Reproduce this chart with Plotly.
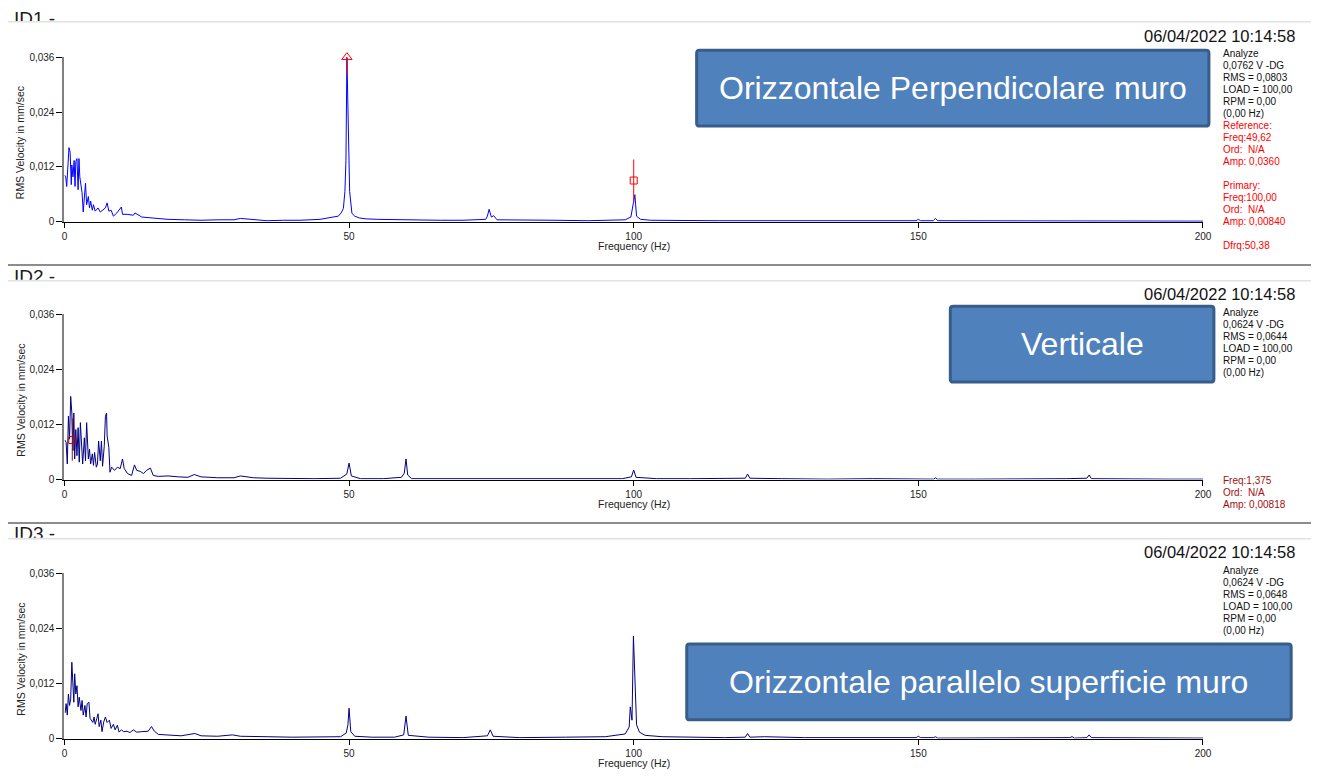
import plotly.graph_objects as go

W, H = 1320, 780

# ---------------- data ----------------
id1_freq = [
    0.0, 0.23, 0.4, 0.6, 0.8, 1.0, 1.2, 1.3, 1.5, 1.7,
    1.86, 2.0, 2.2, 2.4, 2.55, 2.7, 2.9, 3.1, 3.3, 3.5,
    3.7, 3.9, 4.2, 4.4, 4.6, 4.9, 5.1, 5.4, 5.9, 6.3,
    6.8, 7.2, 7.5, 7.8, 8.2, 8.6, 9.2, 10.0, 10.2, 11.0,
    12.1, 12.4, 13.6, 14.7, 16.5, 18.2, 21.1, 24.0, 27.0, 29.8,
    30.9, 33.2, 35.6, 38.5, 41.4, 44.9, 47.2, 48.1, 48.6, 49.0,
    49.27, 49.45, 49.62, 49.85, 50.1, 50.5, 51.0, 51.8, 53.0, 55.0,
    58.0, 62.0, 66.0, 70.0, 74.0, 74.3, 74.6, 75.0, 75.4, 76.0,
    80.0, 86.0, 92.0, 98.5, 99.5, 99.8, 100.0, 100.2, 100.5, 101.2,
    103.0, 108.0, 115.0, 122.0, 130.0, 138.0, 145.0, 149.6, 150.0, 150.4,
    152.6, 153.0, 153.4, 160.0, 170.0, 180.0, 190.0, 200.0,
]
id1_amp = [
    0.0102, 0.0098, 0.0077, 0.0127, 0.0162, 0.0152, 0.0081, 0.0124, 0.0098, 0.0134,
    0.0077, 0.0131, 0.0138, 0.0070, 0.0138, 0.0098, 0.0084, 0.0063, 0.0021, 0.0052,
    0.0084, 0.0037, 0.0055, 0.0030, 0.0045, 0.0025, 0.0037, 0.0023, 0.0030, 0.0021,
    0.0025, 0.0030, 0.0041, 0.0023, 0.0025, 0.0012, 0.0019, 0.0032, 0.0016, 0.0016,
    0.0014, 0.0019, 0.0010, 0.0009, 0.0007, 0.0005, 0.0004, 0.0003, 0.0004, 0.0004,
    0.0007, 0.0004, 0.0002, 0.0003, 0.0003, 0.0005, 0.0009, 0.0012, 0.0019, 0.0029,
    0.0066, 0.0134, 0.0360, 0.0191, 0.0066, 0.0018, 0.0012, 0.0008, 0.0006, 0.0005,
    0.0004, 0.0003, 0.0003, 0.0003, 0.0005, 0.0012, 0.0027, 0.0010, 0.0013, 0.0004,
    0.0003, 0.0003, 0.0002, 0.0004, 0.0010, 0.0029, 0.0040, 0.0059, 0.0012, 0.0005,
    0.0003, 0.0002, 0.0002, 0.0002, 0.0002, 0.0002, 0.0002, 0.0002, 0.0005, 0.0002,
    0.0002, 0.0007, 0.0002, 0.0002, 0.0001, 0.0001, 0.0001, 0.0001,
]

id2_freq = [
    0.09, 0.3, 0.5, 0.7, 0.9, 1.1, 1.3, 1.5, 1.65, 1.8,
    2.0, 2.2, 2.4, 2.6, 2.8, 3.0, 3.2, 3.5, 3.7, 3.9,
    4.2, 4.4, 4.6, 4.9, 5.1, 5.3, 5.6, 5.8, 6.0, 6.3,
    6.5, 6.7, 7.0, 7.2, 7.4, 7.5, 7.8, 8.0, 8.3, 8.8,
    9.3, 9.8, 10.2, 10.5, 11.1, 11.8, 12.3, 12.7, 13.3, 13.9,
    14.4, 15.1, 15.6, 16.5, 18.2, 20.0, 21.7, 22.8, 24.0, 26.9,
    29.8, 30.9, 33.2, 35.6, 39.0, 44.0, 48.5, 49.6, 50.0, 50.4,
    52.0, 56.0, 59.2, 59.7, 60.0, 60.3, 61.0, 66.0, 72.0, 78.0,
    85.0, 92.0, 98.0, 99.6, 100.0, 100.4, 104.0, 110.0, 116.0, 119.6,
    120.0, 120.4, 126.0, 134.0, 142.0, 150.0, 152.7, 153.0, 153.3, 160.0,
    168.0, 176.0, 179.6, 180.0, 180.4, 186.0, 194.0, 200.0,
]
id2_amp = [
    0.0086, 0.0081, 0.0034, 0.0138, 0.0088, 0.0181, 0.0145, 0.0063, 0.0145, 0.0045,
    0.0109, 0.0052, 0.0113, 0.0038, 0.0124, 0.0074, 0.0034, 0.0091, 0.0041, 0.0124,
    0.0045, 0.0066, 0.0034, 0.0056, 0.0031, 0.0059, 0.0027, 0.0034, 0.0084, 0.0041,
    0.0084, 0.0029, 0.0074, 0.0138, 0.0145, 0.0095, 0.0070, 0.0016, 0.0027, 0.0020,
    0.0027, 0.0024, 0.0045, 0.0024, 0.0013, 0.0009, 0.0032, 0.0020, 0.0018, 0.0013,
    0.0020, 0.0025, 0.0009, 0.0007, 0.0008, 0.0006, 0.0005, 0.0011, 0.0006, 0.0004,
    0.0004, 0.0008, 0.0004, 0.0003, 0.0002, 0.0002, 0.0003, 0.0012, 0.0036, 0.0008,
    0.0002, 0.0002, 0.0005, 0.0014, 0.0045, 0.0010, 0.0002, 0.0002, 0.0002, 0.0002,
    0.0002, 0.0002, 0.0002, 0.0006, 0.0021, 0.0005, 0.0002, 0.0002, 0.0002, 0.0003,
    0.0012, 0.0003, 0.0002, 0.0001, 0.0002, 0.0002, 0.0001, 0.0004, 0.0001, 0.0001,
    0.0001, 0.0002, 0.0003, 0.0010, 0.0002, 0.0001, 0.0001, 0.0001,
]

id3_freq = [
    0.12, 0.3, 0.5, 0.7, 0.9, 1.1, 1.3, 1.5, 1.65, 1.8,
    2.0, 2.2, 2.4, 2.6, 2.9, 3.1, 3.3, 3.6, 3.8, 4.0,
    4.3, 4.5, 4.7, 5.0, 5.2, 5.4, 5.7, 5.9, 6.1, 6.4,
    6.6, 6.9, 7.2, 7.5, 7.9, 8.2, 8.6, 8.9, 9.3, 9.6,
    10.0, 10.4, 11.0, 11.5, 12.1, 12.7, 13.6, 14.7, 15.3, 15.8,
    16.5, 18.2, 20.5, 22.9, 24.0, 26.9, 29.5, 30.9, 33.2, 35.6,
    40.0, 45.0, 48.5, 49.5, 49.8, 50.0, 50.3, 51.0, 54.0, 58.0,
    59.6, 60.0, 60.4, 64.0, 70.0, 74.3, 74.8, 75.3, 80.0, 88.0,
    95.0, 98.5, 99.2, 99.4, 99.7, 99.95, 100.15, 100.5, 101.0, 102.0,
    105.0, 110.0, 116.0, 119.6, 120.0, 120.4, 123.0, 130.0, 140.0, 149.6,
    150.0, 150.4, 152.7, 153.0, 153.4, 160.0, 170.0, 176.6, 177.0, 177.4,
    179.6, 180.0, 180.4, 188.0, 194.0, 200.0,
]
id3_amp = [
    0.0056, 0.0076, 0.0051, 0.0097, 0.0072, 0.0086, 0.0166, 0.0108, 0.0079, 0.0141,
    0.0097, 0.0115, 0.0069, 0.0090, 0.0061, 0.0083, 0.0051, 0.0072, 0.0047, 0.0076,
    0.0079, 0.0044, 0.0040, 0.0035, 0.0047, 0.0031, 0.0044, 0.0054, 0.0026, 0.0040,
    0.0015, 0.0036, 0.0047, 0.0035, 0.0040, 0.0022, 0.0031, 0.0019, 0.0029, 0.0014,
    0.0019, 0.0015, 0.0016, 0.0013, 0.0019, 0.0014, 0.0015, 0.0016, 0.0026, 0.0016,
    0.0009, 0.0008, 0.0006, 0.0011, 0.0006, 0.0005, 0.0008, 0.0005, 0.0004, 0.0004,
    0.0003, 0.0003, 0.0004, 0.0012, 0.0030, 0.0066, 0.0015, 0.0005, 0.0003, 0.0003,
    0.0008, 0.0049, 0.0007, 0.0003, 0.0002, 0.0006, 0.0019, 0.0005, 0.0002, 0.0003,
    0.0004, 0.0010, 0.0025, 0.0069, 0.0040, 0.0223, 0.0165, 0.0030, 0.0014, 0.0007,
    0.0004, 0.0003, 0.0002, 0.0003, 0.0011, 0.0003, 0.0004, 0.0002, 0.0002, 0.0002,
    0.0005, 0.0002, 0.0002, 0.0004, 0.0001, 0.0001, 0.0002, 0.0002, 0.0004, 0.0001,
    0.0002, 0.0008, 0.0002, 0.0002, 0.0001, 0.0001,
]

# cursors (freq, marker amp, line low, line high)
ref_cursor = [49.62, 0.0360, 0.0321, 0.0360]
primary_cursor = [100.0, 0.0090, 0.0041, 0.0136]
id2_cursor = [1.375, 0.0086, 0.0041, 0.0133]

x_tickvals = [0, 50, 100, 150, 200]
x_ticktext = ["0", "50", "100", "150", "200"]
y_tickvals = [0, 0.012, 0.024, 0.036]
y_ticktext = ["0", "0,012", "0,024", "0,036"]

id_labels = ["ID1 -", "ID2 -", "ID3 -"]
timestamp = "06/04/2022 10:14:58"
info_lines = [
    ["Analyze", "0,0762 V -DG", "RMS = 0,0803", "LOAD = 100,00", "RPM = 0,00", "(0,00 Hz)"],
    ["Analyze", "0,0624 V -DG", "RMS = 0,0644", "LOAD = 100,00", "RPM = 0,00", "(0,00 Hz)"],
    ["Analyze", "0,0624 V -DG", "RMS = 0,0648", "LOAD = 100,00", "RPM = 0,00", "(0,00 Hz)"],
]
cursor1_lines = ["Reference:", "Freq:49,62", "Ord:\u00a0 N/A", "Amp: 0,0360", "",
                 "Primary:", "Freq:100,00", "Ord:\u00a0 N/A", "Amp: 0,00840", "", "Dfrq:50,38"]
cursor2_lines = ["Freq:1,375", "Ord:\u00a0 N/A", "Amp: 0,00818"]
box_labels = ["Orizzontale Perpendicolare muro", "Verticale", "Orizzontale parallelo superficie muro"]
x_title = "Frequency (Hz)"
y_title = "RMS Velocity in mm/sec"

# ---------------- layout geometry (pixels) ----------------
PX_L, PX_R = 62, 1211
panels = [(52, 219), (313, 481), (576, 744)]
id_clip = [(0, 16, 14.5), (264, 278, 276), (526, 540, 538)]
sep_dark = [263, 525]
sep_light = [16, 279, 541]
boxes = [(700, 45, 1217, 122), (956, 305, 1222, 382), (690, 648, 1300, 725)]
info_top = [48.3, 311.0, 573.3]
line_h = 12.2
date_y = [30.5, 292.7, 555.0]
cursor2_top = 482.3

FONT = "Liberation Sans, Arial, sans-serif"
LINE_COLORS = ["#0000FF", "#000080", "#000080"]


def fx(px):
    return px / W


def fy(py):
    return 1 - py / H


fig = go.Figure()

series = [(id1_freq, id1_amp), (id2_freq, id2_amp), (id3_freq, id3_amp)]
for i, (fr, am) in enumerate(series):
    sfx = "" if i == 0 else str(i + 1)
    fig.add_trace(go.Scatter(x=fr, y=am, mode="lines",
                             line=dict(color=LINE_COLORS[i], width=1),
                             xaxis="x" + sfx, yaxis="y" + sfx,
                             showlegend=False, hoverinfo="skip"))


def add_cursor(cur, color, symbol, size, ax):
    f, m, lo, hi = cur
    fig.add_trace(go.Scatter(x=[f, f], y=[lo, hi], mode="lines",
                             line=dict(color=color, width=1),
                             xaxis="x" + ax, yaxis="y" + ax,
                             showlegend=False, hoverinfo="skip"))
    fig.add_trace(go.Scatter(x=[f], y=[m], mode="markers",
                             marker=dict(symbol=symbol, size=size, color=color,
                                         line=dict(color=color, width=1)),
                             cliponaxis=False,
                             xaxis="x" + ax, yaxis="y" + ax,
                             showlegend=False, hoverinfo="skip"))


add_cursor(ref_cursor, "#FF0000", "triangle-up-open", 9, "")
add_cursor(primary_cursor, "#FF0000", "square-open", 7, "")
add_cursor(id2_cursor, "#A01010", "square-open", 7, "2")

# ID header labels, clipped by small hidden subplots
for i, (top, bot, ty) in enumerate(id_clip):
    n = str(i + 4)
    fig.add_trace(go.Scatter(x=[11], y=[ty], mode="text", text=[id_labels[i]],
                             textposition="middle right",
                             textfont=dict(family=FONT, size=19, color="#1a1a1a"),
                             cliponaxis=True,
                             xaxis="x" + n, yaxis="y" + n,
                             showlegend=False, hoverinfo="skip"))

layout = dict(
    width=W, height=H,
    margin=dict(l=0, r=0, t=0, b=0),
    paper_bgcolor="white", plot_bgcolor="rgba(0,0,0,0)",
    font=dict(family=FONT, size=10, color="#222222"),
    showlegend=False,
)

for i, (top, bot) in enumerate(panels):
    sfx = "" if i == 0 else str(i + 1)
    layout["xaxis" + sfx] = dict(
        domain=[fx(PX_L), fx(PX_R)], range=[0, 200], anchor="y" + sfx,
        tickvals=x_tickvals, ticktext=x_ticktext, ticks="outside", ticklen=5,
        tickcolor="black", tickwidth=1, showline=True, linecolor="black", linewidth=1,
        showgrid=False, zeroline=False, tickfont=dict(size=10, color="#222222"),
        fixedrange=True)
    layout["yaxis" + sfx] = dict(
        domain=[fy(bot), fy(top)], range=[0, 0.036], anchor="x" + sfx,
        tickvals=y_tickvals, ticktext=y_ticktext, ticks="outside", ticklen=6,
        tickcolor="black", tickwidth=1, showline=True, linecolor="#808080", linewidth=2,
        showgrid=False, zeroline=False, tickfont=dict(size=10, color="#222222"),
        fixedrange=True)

for i, (top, bot, ty) in enumerate(id_clip):
    n = str(i + 4)
    layout["xaxis" + n] = dict(domain=[0, 0.1], range=[0, 132], visible=False,
                               anchor="y" + n, fixedrange=True)
    layout["yaxis" + n] = dict(domain=[fy(bot), fy(top)], range=[bot, top], visible=False,
                               anchor="x" + n, fixedrange=True)

shapes = []
for y in sep_dark:
    shapes.append(dict(type="line", xref="paper", yref="paper", x0=fx(5), x1=1,
                       y0=fy(y), y1=fy(y), line=dict(color="#8c8c8c", width=2)))
for y in sep_light:
    shapes.append(dict(type="line", xref="paper", yref="paper", x0=fx(5), x1=1,
                       y0=fy(y), y1=fy(y), line=dict(color="#e2e2e2", width=1.5)))


def rounded_rect(x0, y0, x1, y1, r=3):
    pts = [
        f"M {fx(x0 + r)},{fy(y0)}",
        f"L {fx(x1 - r)},{fy(y0)}",
        f"Q {fx(x1)},{fy(y0)} {fx(x1)},{fy(y0 + r)}",
        f"L {fx(x1)},{fy(y1 - r)}",
        f"Q {fx(x1)},{fy(y1)} {fx(x1 - r)},{fy(y1)}",
        f"L {fx(x0 + r)},{fy(y1)}",
        f"Q {fx(x0)},{fy(y1)} {fx(x0)},{fy(y1 - r)}",
        f"L {fx(x0)},{fy(y0 + r)}",
        f"Q {fx(x0)},{fy(y0)} {fx(x0 + r)},{fy(y0)}",
        "Z",
    ]
    return " ".join(pts)


for (x0, y0, x1, y1) in boxes:
    shapes.append(dict(type="path", xref="paper", yref="paper",
                       path=rounded_rect(x0, y0, x1, y1),
                       fillcolor="#4F81BD", line=dict(color="#385D8A", width=3),
                       layer="above"))
layout["shapes"] = shapes

ann = []
for i, (top, bot) in enumerate(panels):
    ann.append(dict(text=x_title, x=fx((PX_L + PX_R) / 2), y=fy(bot + 25),
                    xref="paper", yref="paper", showarrow=False,
                    xanchor="center", yanchor="middle",
                    font=dict(size=10.5, color="#222222")))
    ann.append(dict(text=y_title, x=fx(18), y=fy((top + bot) / 2 + 3),
                    xref="paper", yref="paper", showarrow=False, textangle=-90,
                    xanchor="center", yanchor="middle",
                    font=dict(size=10.5, color="#222222")))
    ann.append(dict(text=timestamp, x=fx(1306), y=fy(date_y[i]),
                    xref="paper", yref="paper", showarrow=False,
                    xanchor="right", yanchor="middle",
                    font=dict(size=16.5, color="#111111")))
    for k, t in enumerate(info_lines[i]):
        ann.append(dict(text=t, x=fx(1229), y=fy(info_top[i] + k * line_h),
                        xref="paper", yref="paper", showarrow=False,
                        xanchor="left", yanchor="middle",
                        font=dict(size=10, color="#111111")))
    x0, y0, x1, y1 = boxes[i]
    ann.append(dict(text=box_labels[i], x=fx((x0 + x1) / 2), y=fy((y0 + y1) / 2),
                    xref="paper", yref="paper", showarrow=False,
                    xanchor="center", yanchor="middle",
                    font=dict(size=32, color="white")))

for k, t in enumerate(cursor1_lines):
    if t:
        ann.append(dict(text=t, x=fx(1229), y=fy(info_top[0] + (6 + k) * line_h),
                        xref="paper", yref="paper", showarrow=False,
                        xanchor="left", yanchor="middle",
                        font=dict(size=10, color="#FF0000")))
for k, t in enumerate(cursor2_lines):
    ann.append(dict(text=t, x=fx(1229), y=fy(cursor2_top + k * line_h),
                    xref="paper", yref="paper", showarrow=False,
                    xanchor="left", yanchor="middle",
                    font=dict(size=10, color="#A01010")))
layout["annotations"] = ann

fig.update_layout(**layout)
fig.write_html("out.html", config={"displayModeBar": False})
